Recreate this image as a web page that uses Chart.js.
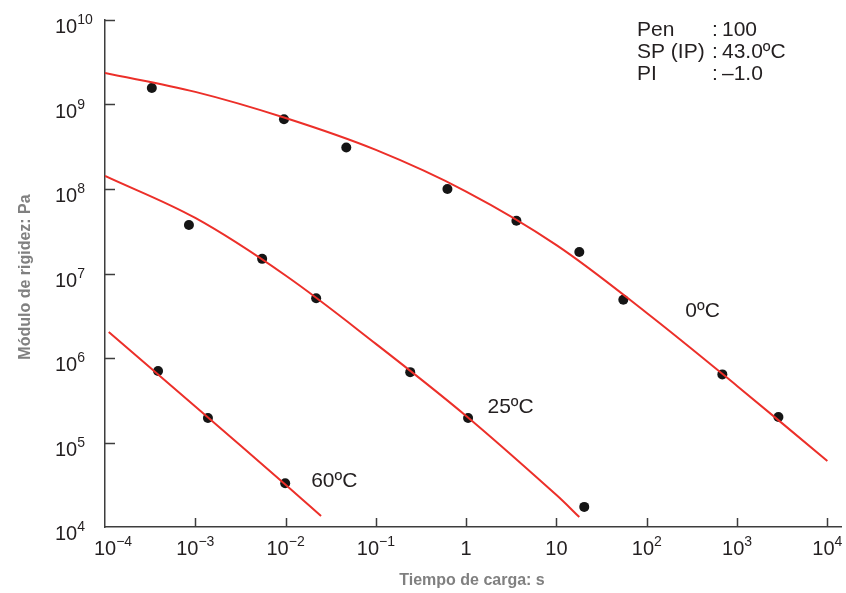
<!DOCTYPE html>
<html lang="es">
<head>
    <meta charset="UTF-8">
    <title>Módulo de rigidez</title>
    <script src="https://cdn.jsdelivr.net/npm/chart.js"></script>
    <style>
        body { margin: 0; background: #fff; }
    </style>
</head>
<body>
    <canvas id="stiffnessChart" width="846" height="593"></canvas>
    <script>
        // decades shown on the axes (exponents of 10)
        const xTickExps = [-4, -3, -2, -1, 0, 1, 2, 3, 4];
        const yTickExps = [4, 5, 6, 7, 8, 9, 10];

        // fitted curves (time s, stiffness Pa)
        const curve0Time = [1e-4, 1e-3, 1e-2, 1e-1, 1, 10, 100, 1000, 10000];
        const curve0Stiff = [2.36e9, 1.41e9, 6.92e8, 2.9e8, 9.33e7, 2.17e7, 3.41e6, 4.67e5, 6.04e4];
        const curve25Time = [1e-4, 1e-3, 1e-2, 1e-1, 1, 10, 17.9];
        const curve25Stiff = [1.43e8, 4.54e7, 9.46e6, 1.47e6, 2.06e5, 2.39e4, 1.31e4];
        const curve60Time = [1.1e-4, 1e-3, 1e-2, 0.0247];
        const curve60Stiff = [2.03e6, 2.67e5, 3.17e4, 1.35e4];

        // measured points
        const pts0Time = [3.3e-4, 0.0096, 0.047, 0.62, 3.6, 17.9, 55, 687, 2870];
        const pts0Stiff = [1.57e9, 6.7e8, 3.1e8, 1e8, 4.2e7, 1.8e7, 4.9e6, 6.4e5, 2e5];
        const pts25Time = [8.5e-4, 5.5e-3, 0.0218, 0.24, 1.05, 20.3];
        const pts25Stiff = [3.75e7, 1.49e7, 5.1e6, 6.8e5, 1.95e5, 1.73e4];
        const pts60Time = [3.87e-4, 1.38e-3, 9.9e-3];
        const pts60Stiff = [7.0e5, 1.95e5, 3.3e4];

        const infoLines = [['Pen', '100'], ['SP (IP)', '43.0ºC'], ['PI', '–1.0']];
        const curveLabels = [
            { text: '0ºC', x: 267, y: 3.6e6 },
            { text: '25ºC', x: 1.72, y: 2.63e5 },
            { text: '60ºC', x: 0.0192, y: 3.5e4 }
        ];

        const red = '#ec2f29';
        const pair = (xs, ys) => xs.map((x, i) => ({ x: x, y: ys[i] }));

        function curve(xs, ys) {
            return {
                type: 'line',
                data: pair(xs, ys),
                borderColor: red,
                borderWidth: 2,
                pointRadius: 0,
                fill: false,
                tension: 0.35
            };
        }
        function dots(xs, ys) {
            return {
                type: 'scatter',
                data: pair(xs, ys),
                backgroundColor: '#151515',
                borderWidth: 0,
                pointRadius: 5
            };
        }

        const FONT = '"Liberation Sans", Arial, sans-serif';

        function power(ctx, exp, x, y, align) {
            // 10^exp with a raised exponent; x is the anchor, y the baseline
            const base = exp === 0 ? '1' : '10';
            const sup = (exp === 0 || exp === 1) ? '' : String(exp).replace('-', '\u2212');
            ctx.font = '20px ' + FONT;
            const wb = ctx.measureText(base).width;
            ctx.font = '14px ' + FONT;
            const ws = ctx.measureText(sup).width;
            let left = x;
            if (align === 'center') left = x - (wb + ws) / 2;
            ctx.textAlign = 'left';
            ctx.textBaseline = 'alphabetic';
            ctx.font = '20px ' + FONT;
            ctx.fillText(base, left, y);
            ctx.font = '14px ' + FONT;
            ctx.fillText(sup, left + wb, y - 9);
        }

        const decorations = {
            id: 'decorations',
            afterDraw(chart) {
                const ctx = chart.ctx;
                const xs = chart.scales.x, ys = chart.scales.y;
                const area = chart.chartArea;
                ctx.save();

                // inward ticks
                ctx.strokeStyle = '#3d3d3d';
                ctx.lineWidth = 1.5;
                ctx.beginPath();
                xTickExps.slice(1).forEach(e => {
                    const px = Math.round(xs.getPixelForValue(Math.pow(10, e))) + 0.5;
                    ctx.moveTo(px, area.bottom);
                    ctx.lineTo(px, area.bottom - 9);
                });
                yTickExps.slice(1).forEach(e => {
                    const py = Math.round(ys.getPixelForValue(Math.pow(10, e))) + 0.5;
                    ctx.moveTo(area.left, py);
                    ctx.lineTo(area.left + 10, py);
                });
                ctx.stroke();

                // tick labels
                ctx.fillStyle = '#231f20';
                xTickExps.forEach((e, i) => {
                    let px = xs.getPixelForValue(Math.pow(10, e));
                    if (i === 0) px += 8;
                    power(ctx, e, px, area.bottom + 28, 'center');
                });
                yTickExps.forEach(e => {
                    const py = ys.getPixelForValue(Math.pow(10, e));
                    power(ctx, e, 55, py + 13, 'left');
                });

                // axis titles
                ctx.fillStyle = '#808080';
                ctx.font = 'bold 16px ' + FONT;
                ctx.textAlign = 'center';
                ctx.textBaseline = 'alphabetic';
                ctx.fillText('Tiempo de carga: s', 472, 585);
                ctx.save();
                ctx.translate(30, 277);
                ctx.rotate(-Math.PI / 2);
                ctx.fillText('Módulo de rigidez: Pa', 0, 0);
                ctx.restore();

                // curve labels
                ctx.fillStyle = '#231f20';
                ctx.font = '21px ' + FONT;
                ctx.textAlign = 'left';
                ctx.textBaseline = 'middle';
                curveLabels.forEach(l => {
                    ctx.fillText(l.text, xs.getPixelForValue(l.x), ys.getPixelForValue(l.y));
                });

                // info block
                ctx.textBaseline = 'alphabetic';
                infoLines.forEach((ln, i) => {
                    const by = 36 + i * 22;
                    ctx.fillText(ln[0], 637, by);
                    ctx.fillText(':', 712, by);
                    ctx.fillText(ln[1], 722, by);
                });
                ctx.restore();
            }
        };

        const ctx = document.getElementById('stiffnessChart').getContext('2d');
        new Chart(ctx, {
            data: {
                datasets: [
                    curve(curve0Time, curve0Stiff),
                    curve(curve25Time, curve25Stiff),
                    curve(curve60Time, curve60Stiff),
                    dots(pts0Time, pts0Stiff),
                    dots(pts25Time, pts25Stiff),
                    dots(pts60Time, pts60Stiff)
                ]
            },
            options: {
                responsive: false,
                animation: false,
                layout: { padding: { left: 105, top: 20, right: 0, bottom: 66 } },
                plugins: { legend: { display: false }, tooltip: { enabled: false } },
                scales: {
                    x: {
                        type: 'logarithmic',
                        min: 1e-4,
                        max: 14160,
                        ticks: { display: false },
                        grid: { display: false, drawTicks: false },
                        border: { display: true, color: '#3d3d3d', width: 1.5 }
                    },
                    y: {
                        type: 'logarithmic',
                        min: 1e4,
                        max: 1e10,
                        ticks: { display: false },
                        grid: { display: false, drawTicks: false },
                        border: { display: true, color: '#3d3d3d', width: 1.5 }
                    }
                }
            },
            plugins: [decorations]
        });
    </script>
</body>
</html>
